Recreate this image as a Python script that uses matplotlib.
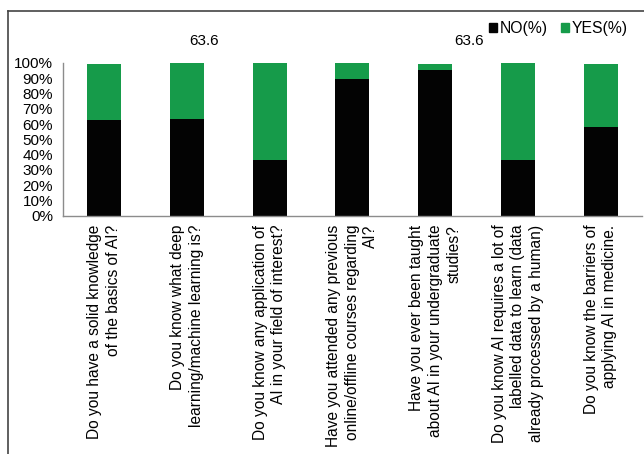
import matplotlib
matplotlib.use("Agg")
import matplotlib.pyplot as plt
from matplotlib.lines import Line2D
from matplotlib.patches import Patch

plt.rcParams['font.family'] = ['Liberation Sans', 'DejaVu Sans']

questions = [
    "Do you have a solid knowledge\nof the basics of AI?",
    "Do you know what deep\nlearning/machine learning is?",
    "Do you know any application of\nAI in your field of interest?",
    "Have you attended any previous\nonline/offline courses regarding\nAI?",
    "Have you ever been taught\nabout AI in your undergraduate\nstudies?",
    "Do you know AI requires a lot of\nlabelled data to learn (data\nalready processed by a human)",
    "Do you know the barriers of\napplying AI in medicine.",
]
no_pct = [62.7, 63.6, 36.4, 89.5, 95.4, 36.4, 58.1]
yes_pct = [36.6, 36.4, 63.6, 10.5, 3.9, 63.6, 41.2]
yticks = list(range(0, 101, 10))

BLACK = "#030303"
GREEN = "#169b4a"

W, H = 644, 454
fig = plt.figure(figsize=(W / 100, H / 100), dpi=100)
ax = fig.add_axes([62.7 / W, 1 - 215.7 / H, (642 - 62.7) / W, (215.7 - 63) / H])

x = range(len(questions))
ax.bar(x, no_pct, width=0.41, color=BLACK, label="NO(%)")
ax.bar(x, yes_pct, width=0.41, bottom=no_pct, color=GREEN, label="YES(%)")

ax.set_xlim(-0.5, len(questions) - 0.5)
ax.set_ylim(0, 100)
ax.set_yticks(yticks)
ax.set_yticklabels([f"{t}%" for t in yticks], fontsize=11)
ax.set_xticks(list(x))
ax.set_xticklabels(questions, rotation=90, fontsize=11.2, ha="center",
                   va="top", multialignment="right", linespacing=1.3)
ax.tick_params(axis="both", length=0, pad=6.5)
ax.tick_params(axis="y", pad=7)

for s in ("top", "right"):
    ax.spines[s].set_visible(False)
for s in ("left", "bottom"):
    ax.spines[s].set_color("#8c8c8c")
    ax.spines[s].set_linewidth(1.0)

# stray value labels above the plot
fig.text(204 / W, 1 - 41 / H, "63.6", fontsize=11, ha="center", va="center")
fig.text(469 / W, 1 - 41 / H, "63.6", fontsize=11, ha="center", va="center")

handles = [Patch(color=BLACK), Patch(color=GREEN)]
fig.legend(handles, ["NO(%)", "YES(%)"], loc="center right",
           bbox_to_anchor=(634 / W, 1 - 29 / H), ncol=2, frameon=False,
           fontsize=11.3, handlelength=0.5, handleheight=0.5,
           handletextpad=0.2, columnspacing=0.8, borderaxespad=0)

# outer frame (cropped on the right and bottom)
fig.add_artist(Line2D([7.5 / W, 7.5 / W], [0, 1 - 11 / H], color="#444444", lw=1.2))
fig.add_artist(Line2D([7.5 / W, 1], [1 - 11 / H, 1 - 11 / H], color="#444444", lw=1.2))

fig.savefig("out.png", dpi=100)
